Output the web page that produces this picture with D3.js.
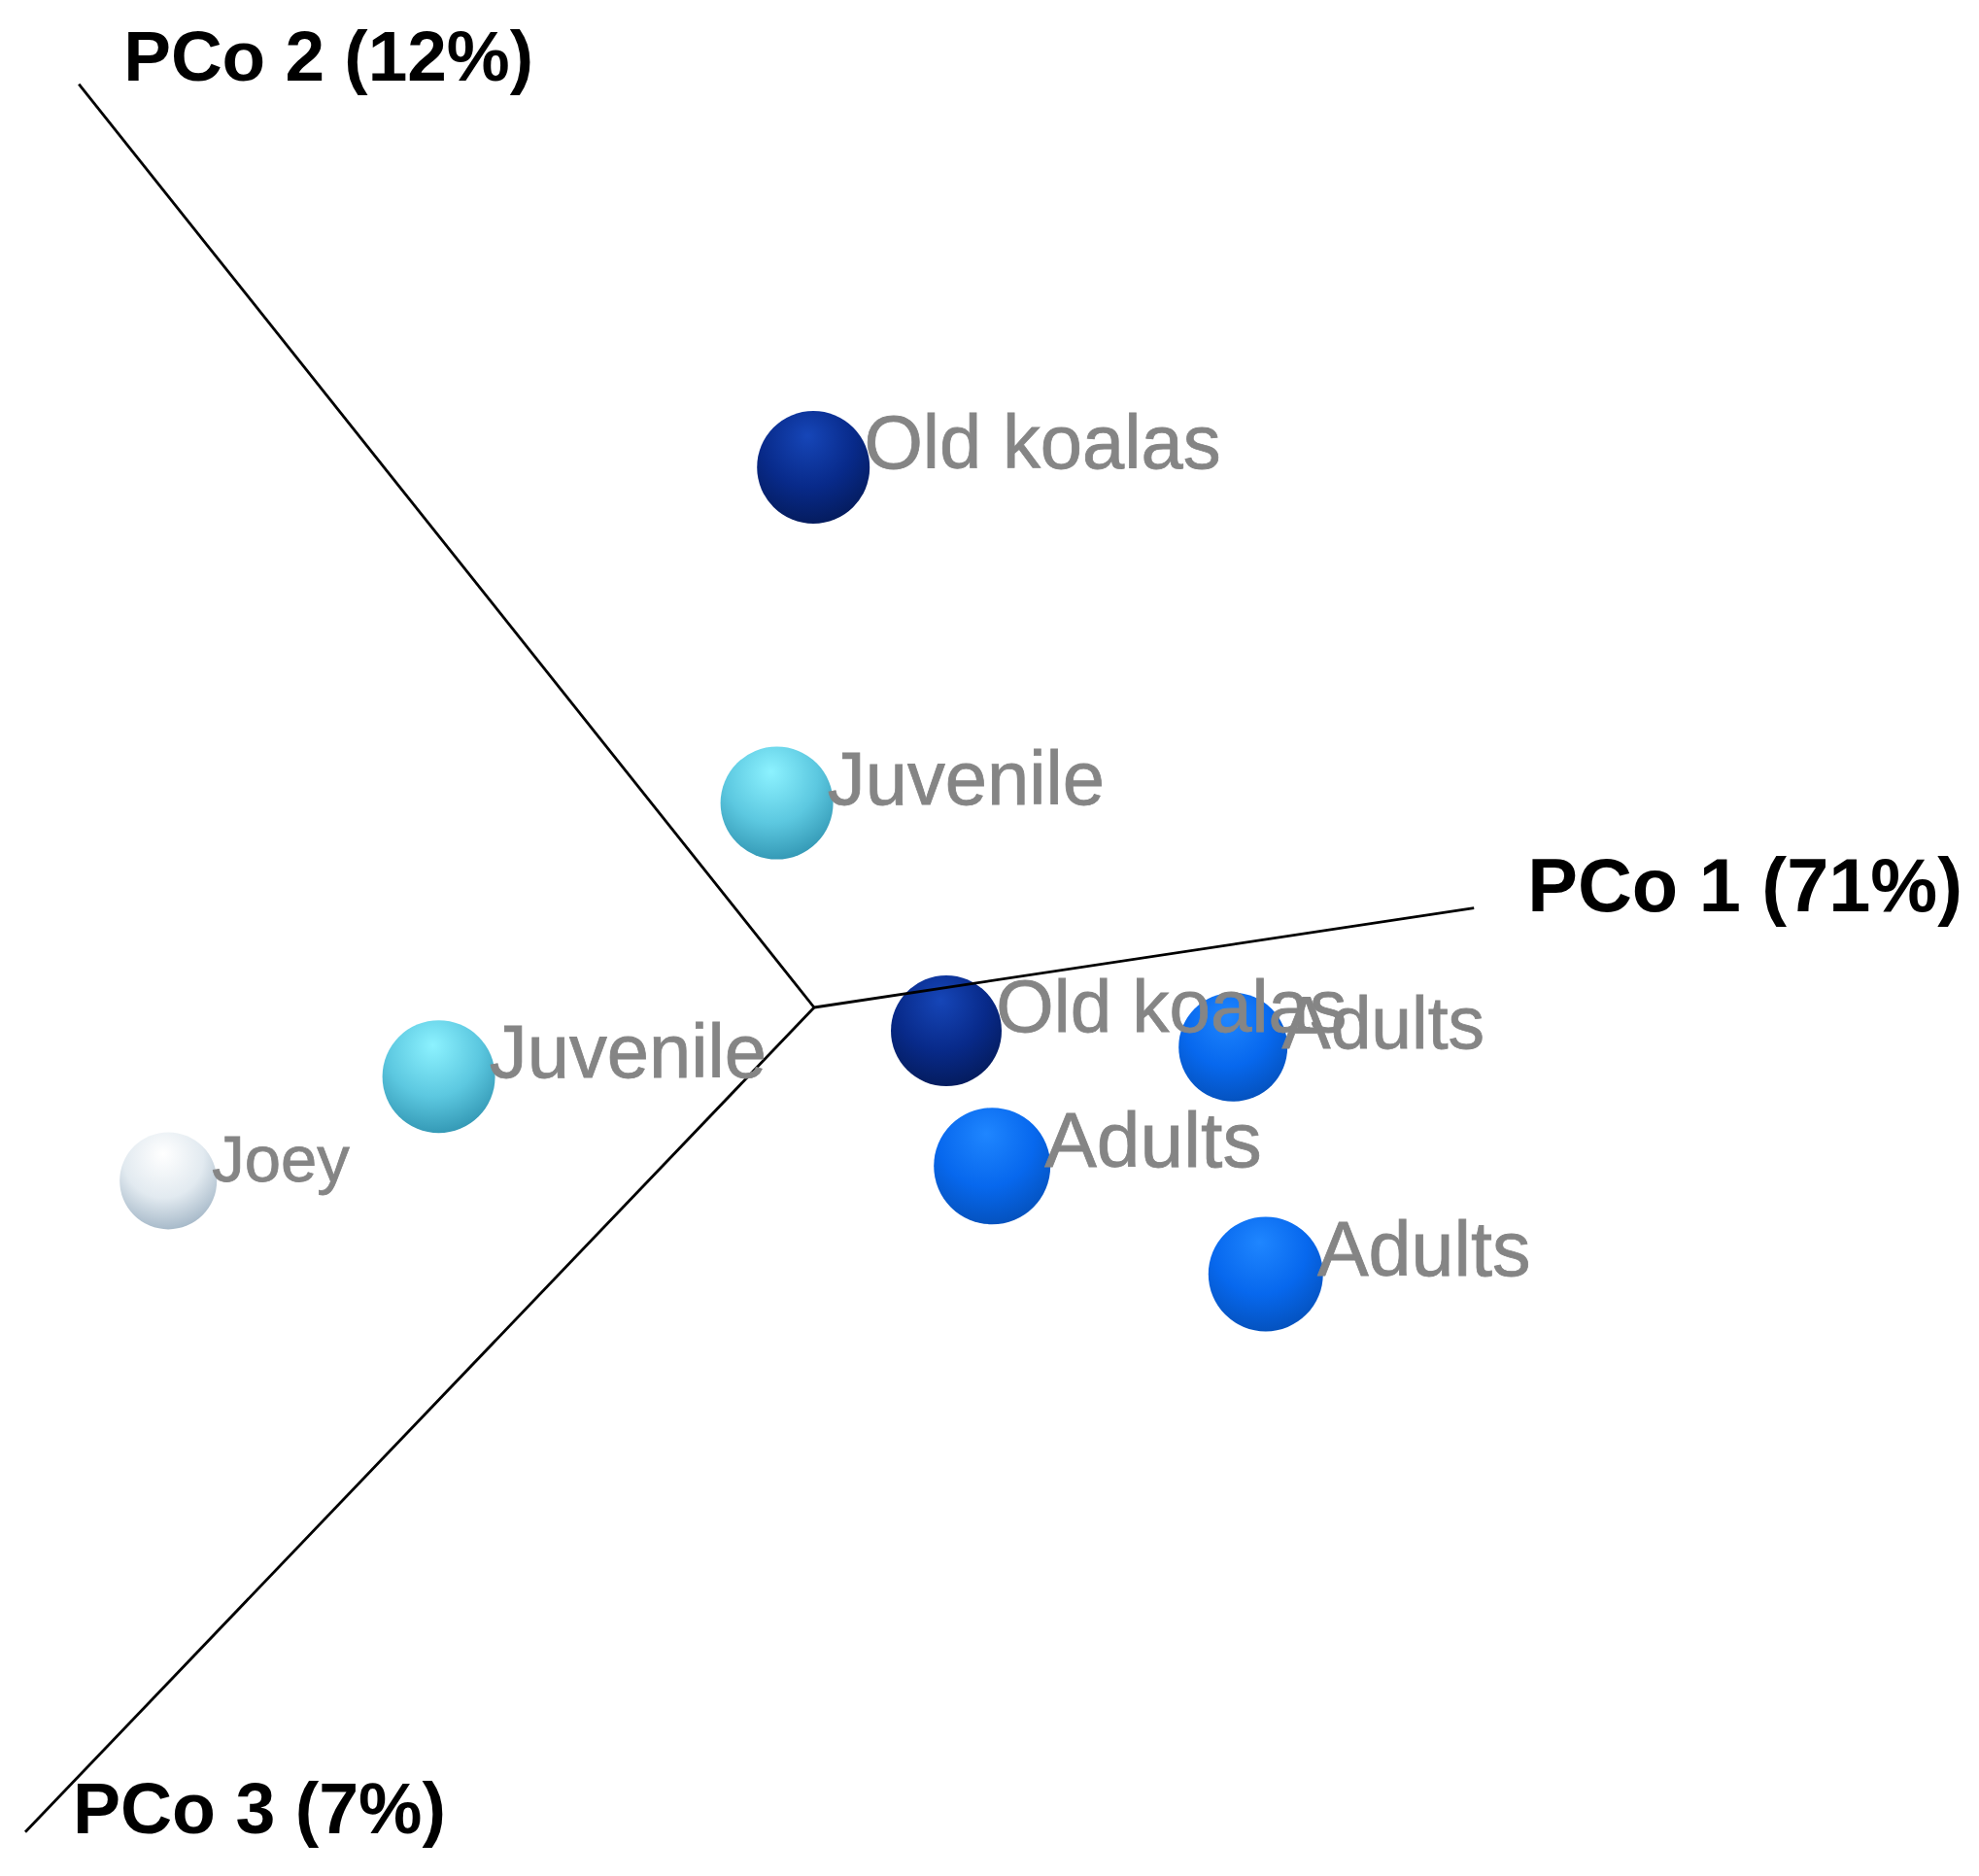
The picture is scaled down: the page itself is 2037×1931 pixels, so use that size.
<!DOCTYPE html>
<html><head><meta charset="utf-8">
<script src="https://cdn.jsdelivr.net/npm/d3@7"></script>
<style>html,body{margin:0;padding:0;background:#fff;}svg{display:block;}</style>
</head><body>
<script>
// Sample labels and projected PCoA coordinates (screen-plane projection, unitless)
const labels = ["Old koalas","Juvenile","Old koalas","Adults","Adults","Adults","Juvenile","Joey"];
const groups = ["old","juvenile","old","adult","adult","adult","juvenile","joey"];
const projX  = [-0.001,-0.048, 0.170, 0.539, 0.229, 0.581,-0.483,-0.831];
const projY  = [ 0.695, 0.263,-0.030,-0.051,-0.204,-0.343,-0.089,-0.223];
const depth  = [ 0.30, 0.30, 0.20, 0.10, 0.50, 0.40, 0.30,-0.50];
// Axis names and projected end points of the three axes
const axisNames = ["PCo 1 (71%)","PCo 2 (12%)","PCo 3 (7%)"];
const axisEndX  = [0.849,-0.946,-1.015];
const axisEndY  = [0.128, 1.188,-1.061];

const W = 2037, H = 1931;
const x = d3.scaleLinear().domain([-1,1]).range([38,1638]);
const y = d3.scaleLinear().domain([-1,1]).range([1837,237]);
const r = d3.scaleLinear().domain([-0.5,0.5]).range([50,60]);

const colors = {
  old:      {hi:"#1646b8", mid:"#082a8a", lo:"#041a58"},
  adult:    {hi:"#1f86ff", mid:"#0768ee", lo:"#044fb8"},
  juvenile: {hi:"#8cf2ff", mid:"#5cc8e0", lo:"#2f93b0"},
  joey:     {hi:"#ffffff", mid:"#e2eaf0", lo:"#9fb3c4"}
};

const svg = d3.select("body").append("svg").attr("width",W).attr("height",H);
const defs = svg.append("defs");
Object.entries(colors).forEach(([k,c])=>{
  const g = defs.append("radialGradient").attr("id","g-"+k)
    .attr("cx","45%").attr("cy","30%").attr("r","75%").attr("fx","45%").attr("fy","22%");
  g.append("stop").attr("offset","0%").attr("stop-color",c.hi);
  g.append("stop").attr("offset","55%").attr("stop-color",c.mid);
  g.append("stop").attr("offset","100%").attr("stop-color",c.lo);
});

const pts = labels.map((l,i)=>({label:l, group:groups[i], x:projX[i], y:projY[i], d:depth[i]}));

// spheres
svg.append("g").selectAll("circle").data(pts).join("circle")
  .attr("cx",d=>x(d.x)).attr("cy",d=>y(d.y)).attr("r",d=>r(d.d))
  .attr("fill",d=>"url(#g-"+d.group+")");

// axes
const axes = axisNames.map((n,i)=>({name:n, x:axisEndX[i], y:axisEndY[i]}));
svg.append("g").selectAll("line").data(axes).join("line")
  .attr("x1",x(0)).attr("y1",y(0)).attr("x2",d=>x(d.x)).attr("y2",d=>y(d.y))
  .attr("stroke","#000").attr("stroke-width",2.8);

// point labels
svg.append("g").selectAll("text").data(pts).join("text")
  .attr("x",d=>x(d.x)+r(d.d)*0.9).attr("y",d=>y(d.y)+r(d.d)*0.02)
  .attr("font-family","Liberation Sans, Arial, sans-serif")
  .attr("font-size",d=>r(d.d)*1.34)
  .attr("fill","#858585").attr("stroke","#858585").attr("stroke-width",0.8)
  .text(d=>d.label);

// axis labels
const axisLabelPos = [
  {dx:55, dy:3, fs:77.5},   // PCo1: to the right of end
  {dx:46, dy:-4, fs:73},    // PCo2: right of top end
  {dx:49, dy:1, fs:73.5}    // PCo3: right of bottom end
];
svg.append("g").selectAll("text").data(axes).join("text")
  .attr("x",(d,i)=>x(d.x)+axisLabelPos[i].dx)
  .attr("y",(d,i)=>y(d.y)+axisLabelPos[i].dy)
  .attr("font-family","Liberation Sans, Arial, sans-serif")
  .attr("font-weight","bold").attr("font-size",(d,i)=>axisLabelPos[i].fs).attr("fill","#000")
  .text(d=>d.name);
</script>
</body></html>
